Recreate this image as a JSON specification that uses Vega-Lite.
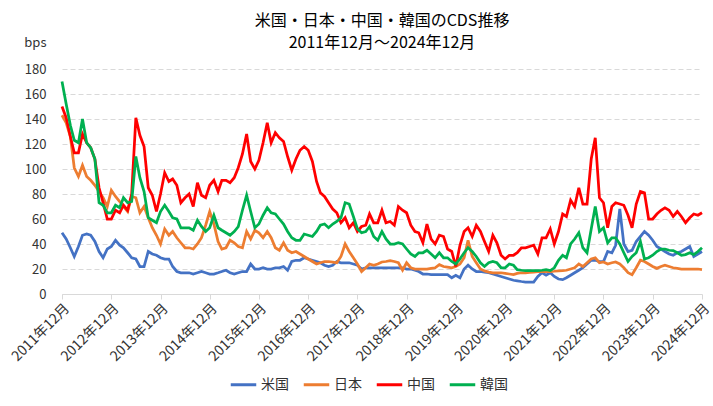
{
"$schema":"https://vega.github.io/schema/vega-lite/v6.json",
"autosize":"none",
"width":640,"height":225,
"padding":{"left":62,"top":69,"right":11,"bottom":112},
"background":"white",
"config":{"font":"Noto Sans CJK JP","view":{"stroke":null}},
"title":{"text":"米国・日本・中国・韓国のCDS推移","subtitle":"2011年12月～2024年12月","anchor":"middle","fontSize":16,"subtitleFontSize":16,"font":"Noto Sans CJK JP","subtitleFont":"Noto Sans CJK JP","fontWeight":"normal","color":"#000000","subtitleColor":"#000000","offset":-15,"subtitlePadding":6},
"data":{"values":[
{"d":"2011-12-01","米国":49,"日本":143,"中国":150,"韓国":170},
{"d":"2012-01-01","米国":44,"日本":137,"中国":141,"韓国":152},
{"d":"2012-02-01","米国":37,"日本":126,"中国":126,"韓国":135},
{"d":"2012-03-01","米国":30,"日本":101,"中国":113,"韓国":123},
{"d":"2012-04-01","米国":38,"日本":94,"中国":113,"韓国":121},
{"d":"2012-05-01","米国":47,"日本":103,"中国":128,"韓国":140},
{"d":"2012-06-01","米国":48,"日本":94,"中国":121,"韓国":121},
{"d":"2012-07-01","米国":47,"日本":91,"中国":117,"韓国":117},
{"d":"2012-08-01","米国":42,"日本":87,"中国":108,"韓国":108},
{"d":"2012-09-01","米国":34,"日本":82,"中国":85,"韓国":73},
{"d":"2012-10-01","米国":29,"日本":77,"中国":73,"韓国":71},
{"d":"2012-11-01","米国":36,"日本":70,"中国":60,"韓国":65},
{"d":"2012-12-01","米国":38,"日本":83,"中国":60,"韓国":65},
{"d":"2013-01-01","米国":43,"日本":78,"中国":67,"韓国":71},
{"d":"2013-02-01","米国":39,"日本":74,"中国":65,"韓国":69},
{"d":"2013-03-01","米国":37,"日本":70,"中国":71,"韓国":77},
{"d":"2013-04-01","米国":33,"日本":66,"中国":67,"韓国":73},
{"d":"2013-05-01","米国":29,"日本":78,"中国":80,"韓国":74},
{"d":"2013-06-01","米国":28,"日本":77,"中国":141,"韓国":110},
{"d":"2013-07-01","米国":22,"日本":65,"中国":127,"韓国":93},
{"d":"2013-08-01","米国":22,"日本":70,"中国":118,"韓国":82},
{"d":"2013-09-01","米国":34,"日本":61,"中国":85,"韓国":61},
{"d":"2013-10-01","米国":32,"日本":53,"中国":79,"韓国":59},
{"d":"2013-11-01","米国":31,"日本":47,"中国":66,"韓国":57},
{"d":"2013-12-01","米国":29,"日本":40,"中国":80,"韓国":66},
{"d":"2014-01-01","米国":28,"日本":52,"中国":97,"韓国":71},
{"d":"2014-02-01","米国":28,"日本":47,"中国":90,"韓国":66},
{"d":"2014-03-01","米国":22,"日本":50,"中国":92,"韓国":61},
{"d":"2014-04-01","米国":18,"日本":45,"中国":87,"韓国":60},
{"d":"2014-05-01","米国":17,"日本":41,"中国":73,"韓国":53},
{"d":"2014-06-01","米国":17,"日本":37,"中国":77,"韓国":53},
{"d":"2014-07-01","米国":17,"日本":37,"中国":80,"韓国":53},
{"d":"2014-08-01","米国":16,"日本":36,"中国":70,"韓国":51},
{"d":"2014-09-01","米国":17,"日本":40,"中国":89,"韓国":59},
{"d":"2014-10-01","米国":18,"日本":45,"中国":79,"韓国":54},
{"d":"2014-11-01","米国":17,"日本":55,"中国":77,"韓国":50},
{"d":"2014-12-01","米国":16,"日本":66,"中国":87,"韓国":53},
{"d":"2015-01-01","米国":16,"日本":56,"中国":91,"韓国":63},
{"d":"2015-02-01","米国":17,"日本":42,"中国":82,"韓国":53},
{"d":"2015-03-01","米国":18,"日本":36,"中国":91,"韓国":51},
{"d":"2015-04-01","米国":19,"日本":37,"中国":91,"韓国":49},
{"d":"2015-05-01","米国":17,"日本":43,"中国":89,"韓国":47},
{"d":"2015-06-01","米国":16,"日本":41,"中国":93,"韓国":50},
{"d":"2015-07-01","米国":17,"日本":38,"中国":101,"韓国":54},
{"d":"2015-08-01","米国":18,"日本":37,"中国":112,"韓国":67},
{"d":"2015-09-01","米国":18,"日本":50,"中国":128,"韓国":79},
{"d":"2015-10-01","米国":24,"日本":44,"中国":106,"韓国":66},
{"d":"2015-11-01","米国":20,"日本":51,"中国":100,"韓国":53},
{"d":"2015-12-01","米国":20,"日本":49,"中国":107,"韓国":56},
{"d":"2016-01-01","米国":21,"日本":45,"中国":121,"韓国":63},
{"d":"2016-02-01","米国":20,"日本":50,"中国":137,"韓国":69},
{"d":"2016-03-01","米国":20,"日本":45,"中国":121,"韓国":65},
{"d":"2016-04-01","米国":21,"日本":37,"中国":129,"韓国":64},
{"d":"2016-05-01","米国":21,"日本":35,"中国":125,"韓国":60},
{"d":"2016-06-01","米国":22,"日本":41,"中国":122,"韓国":56},
{"d":"2016-07-01","米国":19,"日本":35,"中国":110,"韓国":50},
{"d":"2016-08-01","米国":26,"日本":33,"中国":99,"韓国":45},
{"d":"2016-09-01","米国":27,"日本":34,"中国":108,"韓国":43},
{"d":"2016-10-01","米国":27,"日本":32,"中国":115,"韓国":43},
{"d":"2016-11-01","米国":29,"日本":30,"中国":118,"韓国":48},
{"d":"2016-12-01","米国":28,"日本":28,"中国":115,"韓国":47},
{"d":"2017-01-01","米国":27,"日本":26,"中国":106,"韓国":46},
{"d":"2017-02-01","米国":26,"日本":24,"中国":90,"韓国":50},
{"d":"2017-03-01","米国":25,"日本":25,"中国":81,"韓国":55},
{"d":"2017-04-01","米国":23,"日本":26,"中国":78,"韓国":56},
{"d":"2017-05-01","米国":22,"日本":26,"中国":73,"韓国":53},
{"d":"2017-06-01","米国":23,"日本":25.5,"中国":68,"韓国":56},
{"d":"2017-07-01","米国":26,"日本":25,"中国":65,"韓国":58},
{"d":"2017-08-01","米国":25,"日本":30,"中国":57,"韓国":61},
{"d":"2017-09-01","米国":25,"日本":40,"中国":61,"韓国":73},
{"d":"2017-10-01","米国":25,"日本":34,"中国":53,"韓国":72},
{"d":"2017-11-01","米国":24,"日本":29,"中国":57,"韓国":62},
{"d":"2017-12-01","米国":23,"日本":24,"中国":50,"韓国":52},
{"d":"2018-01-01","米国":20,"日本":18,"中国":54,"韓国":49},
{"d":"2018-02-01","米国":21,"日本":21,"中国":55,"韓国":50},
{"d":"2018-03-01","米国":21,"日本":24,"中国":64,"韓国":54},
{"d":"2018-04-01","米国":21,"日本":23,"中国":57,"韓国":46},
{"d":"2018-05-01","米国":21,"日本":24,"中国":57,"韓国":43},
{"d":"2018-06-01","米国":21,"日本":25.6,"中国":67,"韓国":50},
{"d":"2018-07-01","米国":21,"日本":26,"中国":57,"韓国":44},
{"d":"2018-08-01","米国":21,"日本":26.7,"中国":58,"韓国":40},
{"d":"2018-09-01","米国":21,"日本":26,"中国":55,"韓国":40},
{"d":"2018-10-01","米国":21,"日本":25,"中国":70,"韓国":41},
{"d":"2018-11-01","米国":21,"日本":19,"中国":67,"韓国":40},
{"d":"2018-12-01","米国":20,"日本":25,"中国":65,"韓国":36},
{"d":"2019-01-01","米国":20,"日本":21,"中国":55,"韓国":32},
{"d":"2019-02-01","米国":19,"日本":20,"中国":50,"韓国":30},
{"d":"2019-03-01","米国":18,"日本":20,"中国":49,"韓国":33},
{"d":"2019-04-01","米国":16,"日本":20,"中国":41,"韓国":33},
{"d":"2019-05-01","米国":16,"日本":20,"中国":56,"韓国":35},
{"d":"2019-06-01","米国":15.5,"日本":20.5,"中国":44,"韓国":32},
{"d":"2019-07-01","米国":15.5,"日本":21,"中国":40,"韓国":29},
{"d":"2019-08-01","米国":15.5,"日本":23.5,"中国":47,"韓国":33},
{"d":"2019-09-01","米国":15.5,"日本":22,"中国":46,"韓国":29},
{"d":"2019-10-01","米国":15.5,"日本":21.5,"中国":36,"韓国":29},
{"d":"2019-11-01","米国":13,"日本":21,"中国":34,"韓国":26},
{"d":"2019-12-01","米国":15,"日本":22,"中国":22,"韓国":24},
{"d":"2020-01-01","米国":13,"日本":24,"中国":39,"韓国":28},
{"d":"2020-02-01","米国":20,"日本":29,"中国":50,"韓国":33},
{"d":"2020-03-01","米国":23,"日本":43,"中国":53,"韓国":37},
{"d":"2020-04-01","米国":20,"日本":30,"中国":46,"韓国":34},
{"d":"2020-05-01","米国":18,"日本":25,"中国":55,"韓国":30},
{"d":"2020-06-01","米国":18,"日本":20,"中国":50,"韓国":25},
{"d":"2020-07-01","米国":17.5,"日本":18.5,"中国":42,"韓国":22},
{"d":"2020-08-01","米国":17,"日本":17.5,"中国":34,"韓国":25},
{"d":"2020-09-01","米国":16,"日本":17,"中国":47,"韓国":26},
{"d":"2020-10-01","米国":15,"日本":17,"中国":41,"韓国":25},
{"d":"2020-11-01","米国":14,"日本":17,"中国":31,"韓国":21},
{"d":"2020-12-01","米国":13,"日本":16.5,"中国":28,"韓国":21},
{"d":"2021-01-01","米国":12,"日本":16,"中国":31,"韓国":24},
{"d":"2021-02-01","米国":11,"日本":15.5,"中国":31,"韓国":23},
{"d":"2021-03-01","米国":10.5,"日本":16.5,"中国":33,"韓国":19.5},
{"d":"2021-04-01","米国":10,"日本":17,"中国":37,"韓国":19},
{"d":"2021-05-01","米国":9.6,"日本":17,"中国":37,"韓国":18.7},
{"d":"2021-06-01","米国":9.6,"日本":17.3,"中国":38,"韓国":18.7},
{"d":"2021-07-01","米国":9.6,"日本":17.5,"中国":39,"韓国":18.7},
{"d":"2021-08-01","米国":14,"日本":17.8,"中国":32,"韓国":18.7},
{"d":"2021-09-01","米国":17,"日本":18,"中国":45,"韓国":19},
{"d":"2021-10-01","米国":15,"日本":18,"中国":45,"韓国":19.5},
{"d":"2021-11-01","米国":17,"日本":18,"中国":52,"韓国":18.7},
{"d":"2021-12-01","米国":14,"日本":18.2,"中国":40,"韓国":21},
{"d":"2022-01-01","米国":12,"日本":18.5,"中国":50,"韓国":27},
{"d":"2022-02-01","米国":11.5,"日本":18.7,"中国":64,"韓国":31},
{"d":"2022-03-01","米国":13,"日本":19,"中国":62,"韓国":29},
{"d":"2022-04-01","米国":15,"日本":20,"中国":75,"韓国":40},
{"d":"2022-05-01","米国":17,"日本":21,"中国":70,"韓国":44},
{"d":"2022-06-01","米国":19,"日本":24,"中国":85,"韓国":49},
{"d":"2022-07-01","米国":21,"日本":22,"中国":72,"韓国":37},
{"d":"2022-08-01","米国":24,"日本":25,"中国":72,"韓国":33},
{"d":"2022-09-01","米国":27,"日本":28,"中国":108,"韓国":52},
{"d":"2022-10-01","米国":27,"日本":29,"中国":125,"韓国":70},
{"d":"2022-11-01","米国":26,"日本":25,"中国":77,"韓国":50},
{"d":"2022-12-01","米国":26,"日本":25.6,"中国":73,"韓国":53},
{"d":"2023-01-01","米国":34,"日本":24,"中国":53,"韓国":41},
{"d":"2023-02-01","米国":33,"日本":25,"中国":70,"韓国":45},
{"d":"2023-03-01","米国":39,"日本":25.6,"中国":73,"韓国":45},
{"d":"2023-04-01","米国":68,"日本":24,"中国":72,"韓国":40},
{"d":"2023-05-01","米国":40,"日本":21,"中国":71,"韓国":33},
{"d":"2023-06-01","米国":34,"日本":17,"中国":63,"韓国":26},
{"d":"2023-07-01","米国":35,"日本":15.5,"中国":53,"韓国":30},
{"d":"2023-08-01","米国":42,"日本":21,"中国":72,"韓国":33},
{"d":"2023-09-01","米国":46,"日本":27,"中国":82,"韓国":42},
{"d":"2023-10-01","米国":50,"日本":26,"中国":81,"韓国":28},
{"d":"2023-11-01","米国":47,"日本":24,"中国":60,"韓国":29},
{"d":"2023-12-01","米国":43,"日本":22,"中国":60,"韓国":31},
{"d":"2024-01-01","米国":38,"日本":20.5,"中国":64,"韓国":34},
{"d":"2024-02-01","米国":36,"日本":22,"中国":67,"韓国":36},
{"d":"2024-03-01","米国":34,"日本":23,"中国":69,"韓国":36},
{"d":"2024-04-01","米国":32,"日本":22,"中国":67,"韓国":35},
{"d":"2024-05-01","米国":31,"日本":21,"中国":62,"韓国":34.7},
{"d":"2024-06-01","米国":33,"日本":20.5,"中国":66,"韓国":33},
{"d":"2024-07-01","米国":34,"日本":20,"中国":62,"韓国":31},
{"d":"2024-08-01","米国":36,"日本":20,"中国":57,"韓国":31.5},
{"d":"2024-09-01","米国":38,"日本":20,"中国":61,"韓国":33},
{"d":"2024-10-01","米国":30,"日本":20,"中国":64,"韓国":31.5},
{"d":"2024-11-01","米国":32,"日本":20,"中国":63,"韓国":34},
{"d":"2024-12-01","米国":34,"日本":19.5,"中国":65,"韓国":37}
]},
"transform":[{"fold":["米国","日本","中国","韓国"],"as":["国","bps"]}],
"mark":{"type":"line","strokeWidth":2.75,"interpolate":"linear"},
"encoding":{
"x":{"field":"d","type":"temporal",
"scale":{"type":"utc","domain":[{"year":2011,"month":12,"date":1,"utc":true},{"year":2024,"month":12,"date":1,"utc":true}]},
"axis":{"title":null,"grid":false,"values":[{"year":2011,"month":12,"date":1,"utc":true},{"year":2012,"month":12,"date":1,"utc":true},{"year":2013,"month":12,"date":1,"utc":true},{"year":2014,"month":12,"date":1,"utc":true},{"year":2015,"month":12,"date":1,"utc":true},{"year":2016,"month":12,"date":1,"utc":true},{"year":2017,"month":12,"date":1,"utc":true},{"year":2018,"month":12,"date":1,"utc":true},{"year":2019,"month":12,"date":1,"utc":true},{"year":2020,"month":12,"date":1,"utc":true},{"year":2021,"month":12,"date":1,"utc":true},{"year":2022,"month":12,"date":1,"utc":true},{"year":2023,"month":12,"date":1,"utc":true},{"year":2024,"month":12,"date":1,"utc":true}],
"labelExpr":"utcFormat(datum.value,'%Y年%m月')","labelAngle":-45,"labelAlign":"right","labelBaseline":"top","labelFontSize":14,"labelColor":"#333333","labelPadding":2,"labelOverlap":false,"labelFlush":false,"domainColor":"#D9D9D9","tickColor":"#D9D9D9","tickSize":5}},
"y":{"field":"bps","type":"quantitative","scale":{"domain":[0,180],"nice":false},
"axis":{"title":"bps","titleAngle":0,"titleAlign":"right","titleBaseline":"middle","titleX":-16,"titleY":-27,"titleFontSize":13,"titleFontWeight":"normal","titleColor":"#333333","values":[0,20,40,60,80,100,120,140,160,180],"domain":false,"ticks":false,"labelPadding":16,"labelFontSize":13,"labelColor":"#333333","gridDash":[5,3],"gridColor":"#D9D9D9"}},
"color":{"field":"国","type":"nominal","scale":{"domain":["米国","日本","中国","韓国"],"range":["#4472C4","#ED7D31","#FF0000","#00B050"]},
"legend":{"title":null,"orient":"none","direction":"horizontal","legendX":167,"legendY":301,"symbolType":"stroke","symbolStrokeWidth":3,"symbolSize":650,"labelFontSize":14,"labelColor":"#333333","columnPadding":8,"labelOffset":3}}
}
}
